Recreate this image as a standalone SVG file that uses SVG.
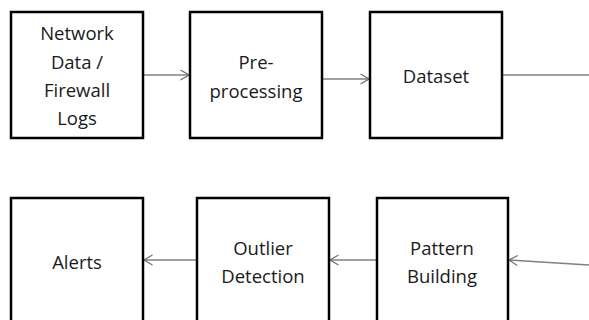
<svg xmlns="http://www.w3.org/2000/svg" width="589" height="320" viewBox="0 0 589 320">
  <style>
    .box { fill: #ffffff; stroke: #000000; stroke-width: 2.5; }
    .lbl { font-family: "Open Sans", "Liberation Sans", sans-serif; font-size: 18.5px; fill: #1a1a1a; text-anchor: middle; }
    .link { fill: none; stroke: #808080; stroke-width: 1.3; }
    .head { fill: none; stroke: #707070; stroke-width: 1.3; }
  </style>
  <defs>
    <marker id="open" viewBox="0 0 10 12" refX="9.5" refY="6" markerWidth="10" markerHeight="12" markerUnits="userSpaceOnUse" orient="auto">
      <path class="head" d="M1,1 L9.5,6 L1,11"/>
    </marker>
  </defs>
  <rect width="589" height="320" fill="#ffffff"/>

  <g id="connectors">
    <line class="link" x1="143" y1="75" x2="189" y2="75" marker-end="url(#open)"/>
    <line class="link" x1="323" y1="79" x2="369" y2="79" marker-end="url(#open)"/>
    <line class="link" x1="502" y1="75" x2="589" y2="75"/>
    <line class="link" x1="589" y1="265" x2="509" y2="260" marker-end="url(#open)"/>
    <line class="link" x1="377" y1="260" x2="330" y2="260" marker-end="url(#open)"/>
    <line class="link" x1="197" y1="260" x2="144" y2="260" marker-end="url(#open)"/>
  </g>

  <g id="network-data">
    <rect class="box" x="11" y="12" width="132" height="126"/>
    <text class="lbl" x="77" y="40">Network</text>
    <text class="lbl" x="77" y="69">Data /</text>
    <text class="lbl" x="77" y="97">Firewall</text>
    <text class="lbl" x="77" y="125">Logs</text>
  </g>

  <g id="preprocessing">
    <rect class="box" x="190" y="12" width="132" height="126"/>
    <text class="lbl" x="256" y="69">Pre-</text>
    <text class="lbl" x="256" y="98">processing</text>
  </g>

  <g id="dataset">
    <rect class="box" x="370" y="12" width="132" height="126"/>
    <text class="lbl" x="436" y="83">Dataset</text>
  </g>

  <g id="alerts">
    <rect class="box" x="11" y="198" width="132" height="126"/>
    <text class="lbl" x="77" y="269">Alerts</text>
  </g>

  <g id="outlier-detection">
    <rect class="box" x="197" y="198" width="132" height="126"/>
    <text class="lbl" x="263" y="255">Outlier</text>
    <text class="lbl" x="263" y="283">Detection</text>
  </g>

  <g id="pattern-building">
    <rect class="box" x="377" y="198" width="131" height="126"/>
    <text class="lbl" x="442" y="255">Pattern</text>
    <text class="lbl" x="442" y="283">Building</text>
  </g>
</svg>
